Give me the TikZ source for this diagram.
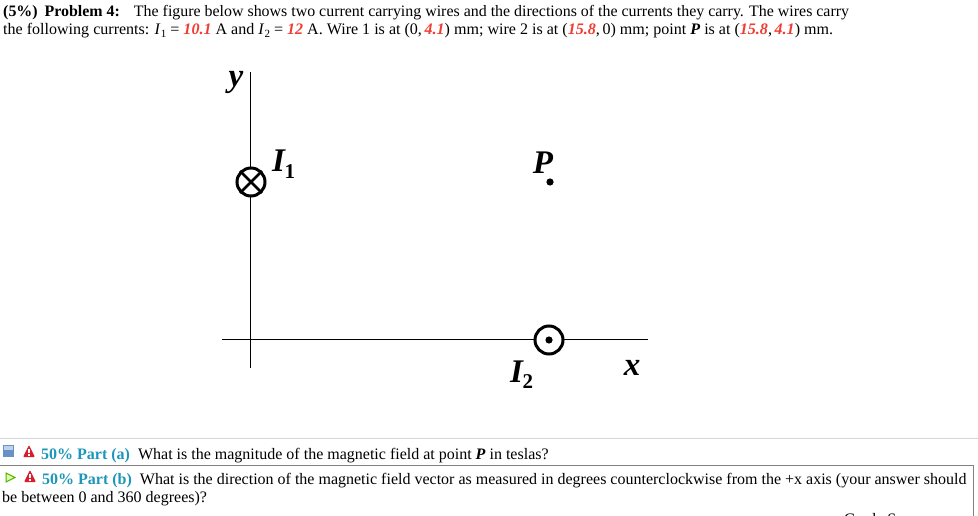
\documentclass[tikz,border=0pt]{standalone}
\usepackage{fontspec}
\setmainfont{Liberation Serif}
\definecolor{valred}{RGB}{240,60,50}
\definecolor{parttitle}{RGB}{30,150,185}
\definecolor{rulegray}{RGB}{215,215,215}
\definecolor{boxgray}{RGB}{130,130,130}
\definecolor{iconblue}{RGB}{105,145,195}
\definecolor{iconpale}{RGB}{190,210,235}
\definecolor{iconred}{RGB}{215,30,45}
\newcommand{\val}[1]{\textcolor{valred}{\textbf{\textit{#1}}}}
\newcommand{\sublow}[1]{\kern0.2pt\raisebox{-3pt}{\fontsize{11}{11}\selectfont #1}}
\tikzset{
    textline/.style={anchor=base west,inner sep=0pt,font=\fontsize{16}{18}\selectfont},
    figlabel/.style={inner sep=0pt,font=\fontsize{33}{33}\selectfont\itshape\bfseries},
    wire/.style={draw=black,circle,fill=white,line width=3pt,minimum size=28pt,inner sep=0pt},
}
\begin{document}
\begin{tikzpicture}[x=1pt,y=-1pt]
    \useasboundingbox (0,0) rectangle (978,516);
    \clip (0,0) rectangle (978,516);

    \node[textline,font=\fontsize{15.92}{18}\selectfont] (line1) at (3,17) {\textbf{(5\%)\hspace{3pt} Problem 4:}\hspace{14pt}The figure below shows two current carrying wires and the directions of the currents they carry. The wires carry};
    \node[textline,font=\fontsize{16.05}{18}\selectfont] (line2) at (3,35) {the following currents: \textit{I}\sublow{1} = \val{10.1} A and \textit{I}\sublow{2} = \val{12} A. Wire 1 is at (0,\,\val{4.1}) mm; wire 2 is at (\val{15.8},\,0) mm; point \textbf{\textit{P}} is at (\val{15.8},\,\val{4.1}) mm.};

    \coordinate (ytop) at (250,72);
    \coordinate (ybot) at (250,368);
    \coordinate (xleft) at (222,339);
    \coordinate (xright) at (648,339);
    \draw[line width=1pt] (ytop) -- (ybot);
    \draw[line width=1pt] (xleft) -- (xright);

    \node[wire] (wire1) at (251,182) {};
    \draw[line width=2.6pt] (wire1.north west) -- (wire1.south east);
    \draw[line width=2.6pt] (wire1.north east) -- (wire1.south west);
    \node[wire] (wire2) at (549,340) {};
    \fill (wire2) circle (3.6);
    \fill (550,182) circle (3.6);

    \node[figlabel] (ylabel) at (236,82) {y};
    \node[figlabel,anchor=base west] (i1label) at (272,172) {I\kern-0.5pt\raisebox{-6pt}{\fontsize{21}{21}\selectfont\upshape 1}};
    \node[figlabel] (plabel) at (543,163) {P};
    \node[figlabel,anchor=base west] (i2label) at (510,382) {I\kern-0.5pt\raisebox{-6pt}{\fontsize{21}{21}\selectfont\upshape 2}};
    \node[figlabel] (xlabel) at (632,368) {x};

    \draw[rulegray,line width=1pt] (0,438) -- (978,438);
    \draw[boxgray,line width=1pt] (0,465) -- (973,465) -- (973,516);

    \fill[iconblue] (3,445) rectangle (14,457);
    \fill[iconpale] (4,446) rectangle (13,450);
    \fill[iconred,rounded corners=1pt] (23,457) -- (29,445) -- (35,457) -- cycle;
    \fill[white] (28.4,449) rectangle (29.6,453);
    \fill[white] (28.4,454) rectangle (29.6,455.5);
    \draw[green!55!yellow!70!black,fill=green!35!yellow!35,line width=1pt] (6,473) -- (15,477.5) -- (6,482) -- cycle;
    \fill[iconred,rounded corners=1pt] (24,482) -- (30,470) -- (36,482) -- cycle;
    \fill[white] (29.4,474) rectangle (30.6,478);
    \fill[white] (29.4,479) rectangle (30.6,480.5);

    \node[textline] (parta) at (41,459) {\textcolor{parttitle}{\textbf{50\% Part (a)}}\hspace{8pt}What is the magnitude of the magnetic field at point \textbf{\textit{P}} in teslas?};
    \node[textline] (partb) at (42,484) {\textcolor{parttitle}{\textbf{50\% Part (b)}}\hspace{8pt}What is the direction of the magnetic field vector as measured in degrees counterclockwise from the +x axis (your answer should};
    \node[textline] (partb2) at (2,502) {be between 0 and 360 degrees)?};
    \node[textline] (grade) at (844,524) {Grade S};
\end{tikzpicture}
\end{document}
